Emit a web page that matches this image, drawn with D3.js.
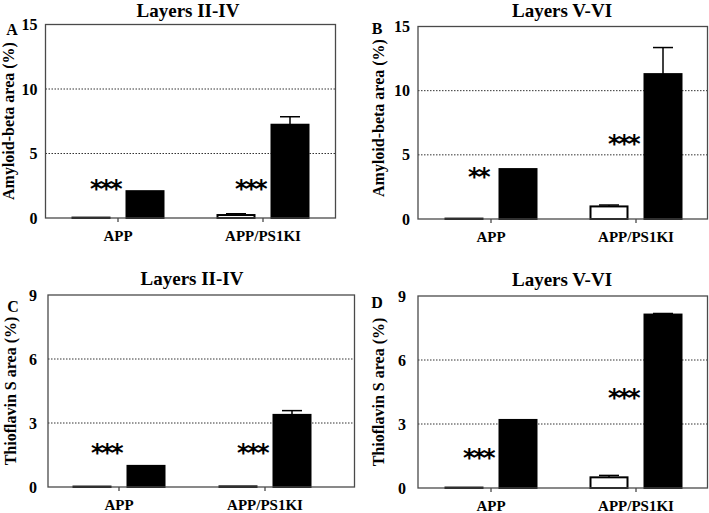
<!DOCTYPE html>
<html>
<head>
<meta charset="utf-8">
<script src="https://cdn.jsdelivr.net/npm/d3@7"></script>
<style>
  body { margin: 0; background: #fff; }
  text { font-family: "Liberation Serif", "Times New Roman", serif; font-weight: bold; fill: #000; }
</style>
</head>
<body>
<svg width="709" height="513"></svg>
<script>
// categories
const groups = ["APP", "APP/PS1KI"]

// panel texts
const panelLetters = ["A", "B", "C", "D"]
const panelTitles = ["Layers II-IV", "Layers V-VI", "Layers II-IV", "Layers V-VI"]
const yLabels = ["Amyloid-beta area (%)", "Amyloid-beta area (%)", "Thioflavin S area (%)", "Thioflavin S area (%)"]
const yMax = [15, 15, 9, 9]
const yTicks = [[0, 5, 10, 15], [0, 5, 10, 15], [0, 3, 6, 9], [0, 3, 6, 9]]

// open bars (white) and filled bars (black), mean and SEM per group
const openMean = [[0.03, 0.23], [0.03, 0.98], [0.02, 0.03], [0.02, 0.5]]
const openErr = [[0, 0.1], [0, 0.11], [0, 0], [0, 0.09]]
const filledMean = [[2.08, 7.23], [3.89, 11.29], [0.99, 3.38], [3.19, 8.13]]
const filledErr = [[0, 0.62], [0, 2.07], [0, 0.2], [0, 0.05]]

// significance marks and the value level they sit at
const stars = [["***", "***"], ["**", "***"], ["***", "***"], ["***", "***"]]
const starLevel = [[2.9, 2.9], [3.9, 6.5], [1.98, 1.98], [1.79, 4.6]]

// layout of each panel box (pixels)
const layout = [
    { left: 45.5, right: 335.5, top: 24.5, bottom: 218, g0: 118, g1: 263, titleX: 188, titleY: 17, letterX: 12, letterY: 35, ylabX: 14, ylabY: 121, tickGap: 8 },
    { left: 418, right: 707.5, top: 26.5, bottom: 219, g0: 491, g1: 636, titleX: 562, titleY: 17, letterX: 377, letterY: 34, ylabX: 384, ylabY: 118, tickGap: 8 },
    { left: 48, right: 354.5, top: 295, bottom: 487, g0: 119, g1: 265, titleX: 192, titleY: 285, letterX: 13, letterY: 312, ylabX: 16, ylabY: 391, tickGap: 11 },
    { left: 418, right: 707.5, top: 296, bottom: 488, g0: 491, g1: 636, titleX: 562, titleY: 286, letterX: 377, letterY: 308, ylabX: 384, ylabY: 392, tickGap: 12 }
]

const barW = 37
const barOff = 27

const svg = d3.select("svg")

layout.forEach((L, p) => {
    const g = svg.append("g")
    const y = d3.scaleLinear().domain([0, yMax[p]]).range([L.bottom, L.top])
    const x = d3.scaleOrdinal().domain(groups).range([L.g0, L.g1])

    // dotted grid lines
    g.selectAll("line.grid")
        .data(yTicks[p].filter(t => t > 0 && t < yMax[p]))
        .join("line")
        .attr("x1", L.left).attr("x2", L.right)
        .attr("y1", d => y(d)).attr("y2", d => y(d))
        .style("stroke", "#333")
        .style("stroke-width", 1)
        .style("stroke-dasharray", "1.5,1.5")

    // y tick labels
    g.selectAll("text.ytick")
        .data(yTicks[p])
        .join("text")
        .attr("x", L.left - L.tickGap)
        .attr("y", d => y(d))
        .attr("dy", "0.35em")
        .attr("text-anchor", "end")
        .style("font-size", "16px")
        .text(d => d)

    // bars
    const bars = []
    groups.forEach((name, i) => {
        bars.push({ name, cx: x(name) - barOff, v: openMean[p][i], e: openErr[p][i], fill: "#fff" })
        bars.push({ name, cx: x(name) + barOff, v: filledMean[p][i], e: filledErr[p][i], fill: "#000" })
    })

    // error bars (upper only)
    const eb = bars.filter(d => d.e > 0)
    g.selectAll("line.err")
        .data(eb)
        .join("line")
        .attr("x1", d => d.cx).attr("x2", d => d.cx)
        .attr("y1", d => y(d.v)).attr("y2", d => y(d.v + d.e))
        .style("stroke", "#000").style("stroke-width", 1.5)
    g.selectAll("line.cap")
        .data(eb)
        .join("line")
        .attr("x1", d => d.cx - 10).attr("x2", d => d.cx + 10)
        .attr("y1", d => y(d.v + d.e)).attr("y2", d => y(d.v + d.e))
        .style("stroke", "#000").style("stroke-width", 1.5)

    g.selectAll("rect.bar")
        .data(bars)
        .join("rect")
        .attr("x", d => d.cx - barW / 2)
        .attr("width", barW)
        .attr("y", d => y(d.v))
        .attr("height", d => y(0) - y(d.v))
        .style("fill", d => d.fill)
        .style("stroke", "#000")
        .style("stroke-width", 2)

    // frame
    g.append("rect")
        .attr("x", L.left).attr("y", L.top)
        .attr("width", L.right - L.left).attr("height", L.bottom - L.top)
        .style("fill", "none")
        .style("stroke", "#4a4a4a")
        .style("stroke-width", 1.3)

    // x ticks and labels
    g.selectAll("line.xtick")
        .data(groups)
        .join("line")
        .attr("x1", d => x(d)).attr("x2", d => x(d))
        .attr("y1", L.bottom).attr("y2", L.bottom + 4)
        .style("stroke", "#4a4a4a").style("stroke-width", 1.3)
    g.selectAll("text.xlab")
        .data(groups)
        .join("text")
        .attr("x", d => x(d))
        .attr("y", L.bottom + 23)
        .attr("text-anchor", "middle")
        .style("font-size", "15px")
        .text(d => d)

    // significance stars
    g.selectAll("text.star")
        .data(groups)
        .join("text")
        .attr("x", d => x(d) - 13)
        .attr("y", (d, i) => y(starLevel[p][i]))
        .attr("dy", "0.68em")
        .attr("text-anchor", "middle")
        .style("font-family", "'DejaVu Sans', sans-serif")
        .style("font-size", "24px")
        .style("letter-spacing", "-2.5px")
        .text((d, i) => stars[p][i])

    // title, letter, y label
    g.append("text")
        .attr("x", L.titleX).attr("y", L.titleY)
        .attr("text-anchor", "middle")
        .style("font-size", "19px")
        .text(panelTitles[p])
    g.append("text")
        .attr("x", L.letterX).attr("y", L.letterY)
        .attr("text-anchor", "middle")
        .style("font-size", "16px")
        .text(panelLetters[p])
    g.append("text")
        .attr("transform", `translate(${L.ylabX},${L.ylabY}) rotate(-90)`)
        .attr("text-anchor", "middle")
        .style("font-size", "16px")
        .text(yLabels[p])
})
</script>
</body>
</html>
